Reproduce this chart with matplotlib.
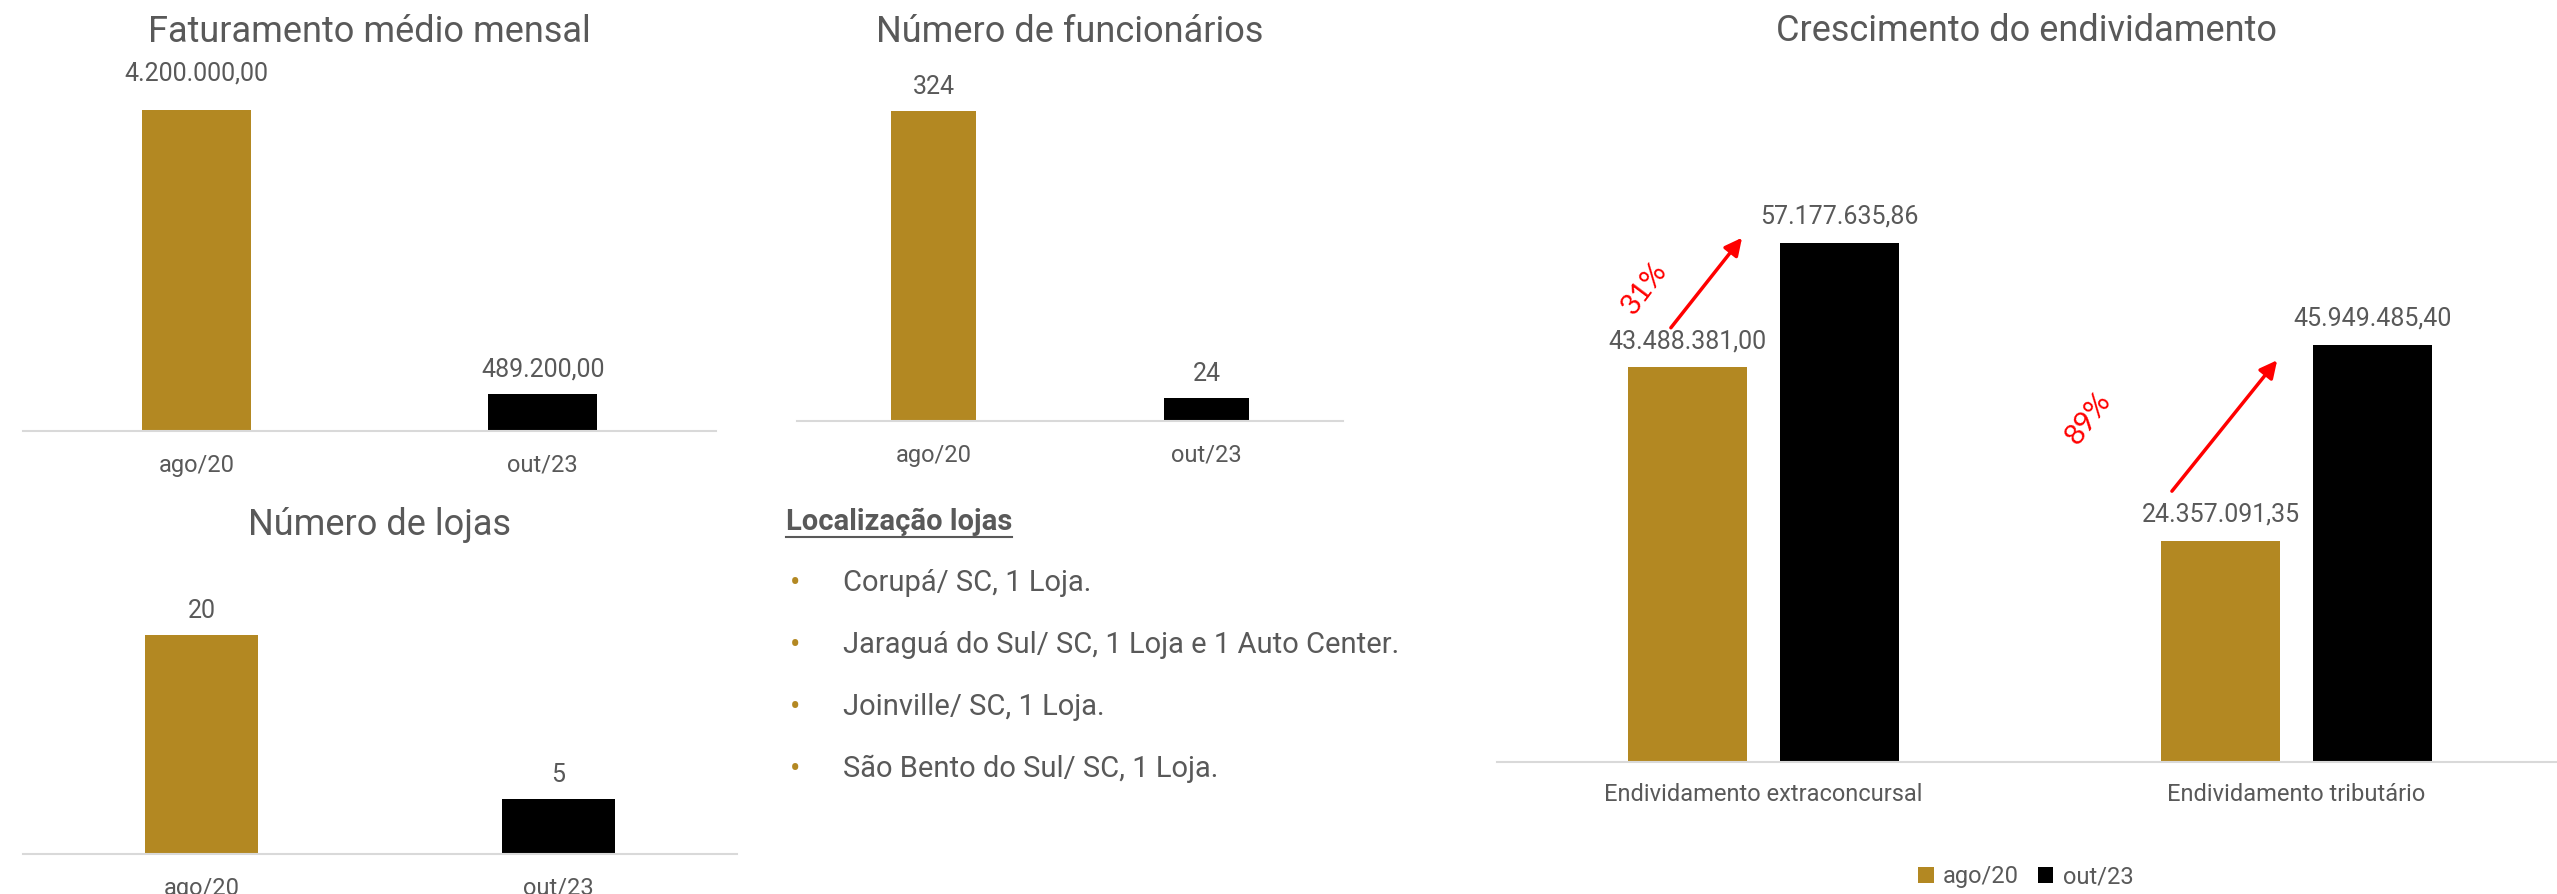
import matplotlib
matplotlib.use('Agg')
import matplotlib.pyplot as plt
from matplotlib.lines import Line2D

plt.rcParams['font.family'] = ['Roboto', 'DejaVu Sans']

W, H = 2557, 894
DOURADO = '#B38822'
PRETO = '#000000'
CINZA = '#595959'
LINHA = '#D9D9D9'

# dados
periodos = ['ago/20', 'out/23']
faturamento = [4200000.00, 489200.00]
funcionarios = [324, 24]
lojas = [20, 5]
categorias_div = ['Endividamento extraconcursal', 'Endividamento tributário']
divida_ago20 = [43488381.00, 24357091.35]
divida_out23 = [57177635.86, 45949485.40]
crescimento = ['31%', '89%']
localizacao = ['Corupá/ SC, 1 Loja.',
               'Jaraguá do Sul/ SC, 1 Loja e 1 Auto Center.',
               'Joinville/ SC, 1 Loja.',
               'São Bento do Sul/ SC, 1 Loja.']


def fmt_br(v, casas=2):
    s = f'{v:,.{casas}f}'
    return s.replace(',', 'X').replace('.', ',').replace('X', '.')


def px(v):
    # pixels -> pontos
    return v * 72 / 100


fig = plt.figure(figsize=(W / 100, H / 100), dpi=100)


def eixo(x0, x1, y_base, y_topo):
    # caixa em pixels, origem no topo da imagem
    ax = fig.add_axes([x0 / W, 1 - y_base / H, (x1 - x0) / W, (y_base - y_topo) / H])
    ax.set_facecolor('none')
    for s in ['top', 'right', 'left']:
        ax.spines[s].set_visible(False)
    ax.spines['bottom'].set_color(LINHA)
    ax.spines['bottom'].set_linewidth(1.5)
    ax.tick_params(axis='y', left=False, labelleft=False)
    ax.tick_params(axis='x', bottom=False, labelsize=17, labelcolor=CINZA, pad=px(18))
    return ax


def rotular(ax, barras, textos, desloc):
    for b, t, d in zip(barras, textos, desloc):
        ax.annotate(t, (b.get_x() + b.get_width() / 2, b.get_height()),
                    xytext=(0, px(d)), textcoords='offset points',
                    ha='center', va='center', fontsize=18, color=CINZA)


def grafico_simples(x0, x1, y_base, y_topo, valores, titulo, y_titulo, textos, desloc):
    ax = eixo(x0, x1, y_base, y_topo)
    pos = list(range(len(valores)))
    barras = ax.bar(pos, valores, width=0.315, color=[DOURADO, PRETO])
    ax.set_xlim(-0.5, 1.5)
    ax.set_ylim(0, max(valores))
    ax.set_xticks(pos, periodos)
    rotular(ax, barras, textos, desloc)
    fig.text((x0 + x1) / 2 / W, 1 - y_titulo / H, titulo, ha='center', va='center',
             fontsize=26, color=CINZA)
    return ax


grafico_simples(23, 716, 431, 110, faturamento, 'Faturamento médio mensal', 32,
                [fmt_br(v) for v in faturamento], [37, 24])
grafico_simples(797, 1343, 421, 111, funcionarios, 'Número de funcionários', 32,
                [str(v) for v in funcionarios], [24, 24])
grafico_simples(23, 737, 854, 635, lojas, 'Número de lojas', 525,
                [str(v) for v in lojas], [24, 24])

# crescimento do endividamento
ax4 = eixo(1497, 2563, 762, 243)
pos = [0, 1]
larg = 0.223
b1 = ax4.bar([p - 0.1426 for p in pos], divida_ago20, width=larg, color=DOURADO)
b2 = ax4.bar([p + 0.1426 for p in pos], divida_out23, width=larg, color=PRETO)
ax4.set_xlim(-0.5, 1.5)
ax4.set_ylim(0, max(divida_out23))
ax4.set_xticks(pos, categorias_div)
ax4.tick_params(axis='x', pad=px(16))
rotular(ax4, b1, [fmt_br(v) for v in divida_ago20], [26, 26])
rotular(ax4, b2, [fmt_br(v) for v in divida_out23], [26, 26])
fig.text(2026 / W, 1 - 31 / H, 'Crescimento do endividamento', ha='center', va='center',
         fontsize=26, color=CINZA)

# setas de crescimento
setas = [((-0.177, 47.6e6), (-0.037, 58.0e6)), ((0.763, 29.6e6), (0.967, 44.5e6))]
pos_pct = [(-0.224, 52.2e6), (0.609, 37.8e6)]
for (ini, fim), (tx, ty), pct in zip(setas, pos_pct, crescimento):
    ax4.annotate('', xy=fim, xytext=ini, annotation_clip=False,
                 arrowprops=dict(arrowstyle='-|>', color='red', lw=2.5, mutation_scale=26))
    ax4.text(tx, ty, pct, rotation=53, color='red', fontsize=21, ha='center', va='center',
             family=['Lato', 'DejaVu Sans'])

ax4.legend([b1, b2], periodos, loc='center', bbox_to_anchor=(2026 / W, 1 - 877 / H),
           bbox_transform=fig.transFigure, ncol=2, frameon=False, fontsize=17,
           handlelength=0.65, handleheight=0.65, handletextpad=0.4, columnspacing=0.8,
           labelcolor=CINZA)

# localizacao das lojas
cab = fig.text(786 / W, 1 - 522 / H, 'Localização lojas', fontweight='bold', fontsize=21,
               color=CINZA, ha='left', va='center')
fig.canvas.draw()
bb = cab.get_window_extent(fig.canvas.get_renderer())
y_sub = (bb.y0 - 1) / H
fig.add_artist(Line2D([bb.x0 / W, bb.x1 / W], [y_sub, y_sub], color=CINZA, lw=1.5))

for i, txt in enumerate(localizacao):
    y = 1 - (583 + i * 62) / H
    fig.text(790 / W, y, '•', color=DOURADO, fontsize=22, ha='left', va='center')
    fig.text(843 / W, y, txt, color=CINZA, fontsize=21, ha='left', va='center')

fig.savefig('out.png', dpi=100)
